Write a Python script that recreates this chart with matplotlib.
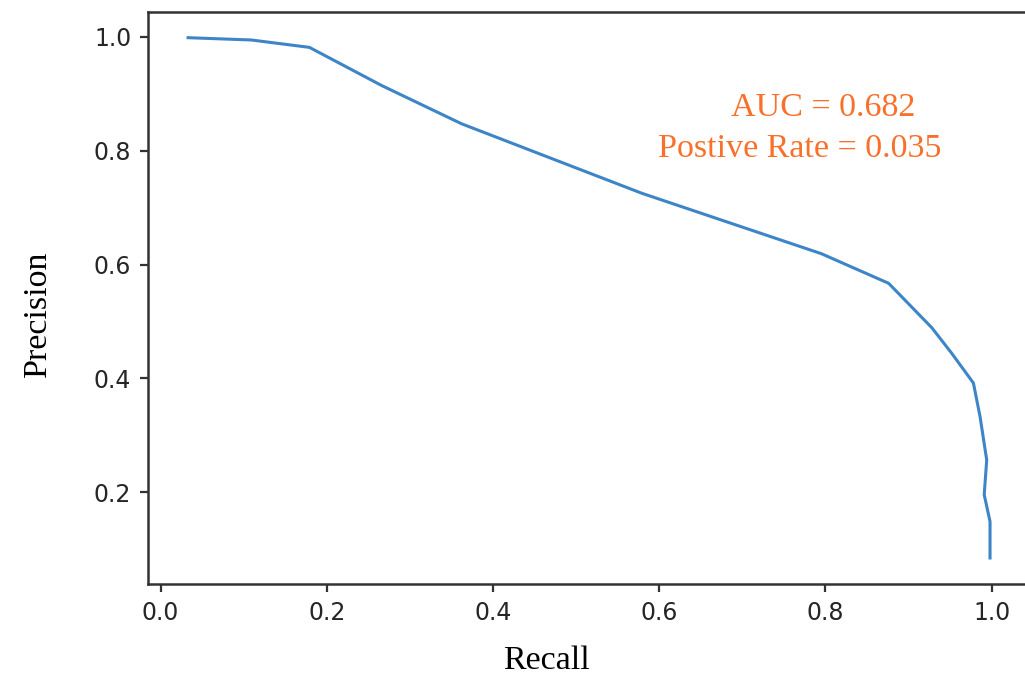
import matplotlib
matplotlib.use("Agg")
import matplotlib.pyplot as plt

# precision-recall curve
recall = [0.033, 0.109, 0.179, 0.266, 0.362, 0.458, 0.579, 0.795, 0.876,
          0.928, 0.952, 0.978, 0.986, 0.994, 0.991, 0.998, 0.998]
precision = [0.998, 0.994, 0.981, 0.914, 0.847, 0.793, 0.725, 0.619, 0.567,
             0.489, 0.444, 0.392, 0.333, 0.257, 0.196, 0.149, 0.085]
auc_text = "AUC = 0.682"
rate_text = "Postive Rate = 0.035"
xticks = [0.0, 0.2, 0.4, 0.6, 0.8, 1.0]
yticks = [0.2, 0.4, 0.6, 0.8, 1.0]

fig = plt.figure(figsize=(10.25, 6.75), dpi=100)
ax = fig.add_axes([0.1444, 0.1348, 0.8606, 0.8479])
ax.plot(recall, precision, color='#3d85c6', lw=2.2)

ax.set_xticks(xticks)
ax.set_yticks(yticks)
ax.tick_params(labelsize=17, length=6, width=1.6, pad=6,
               color='#333333', labelcolor='#262626')
for s in ax.spines.values():
    s.set_linewidth(1.8)
    s.set_color('#333333')

serif = 'Liberation Serif'
fig.text(546 / 1025, 1 - 661 / 675, "Recall", family=serif, fontsize=24.5,
         ha='center', va='center')
fig.text(38 / 1025, 1 - 314 / 675, "Precision", family=serif, fontsize=24.5,
         ha='center', va='center', rotation=90)
fig.text(823 / 1025, 1 - 108 / 675, auc_text, family=serif, fontsize=24.5,
         color='#f8702a', ha='center', va='center')
fig.text(800 / 1025, 1 - 149 / 675, rate_text, family=serif, fontsize=24.5,
         color='#f8702a', ha='center', va='center')

fig.savefig("out.png", dpi=100)
